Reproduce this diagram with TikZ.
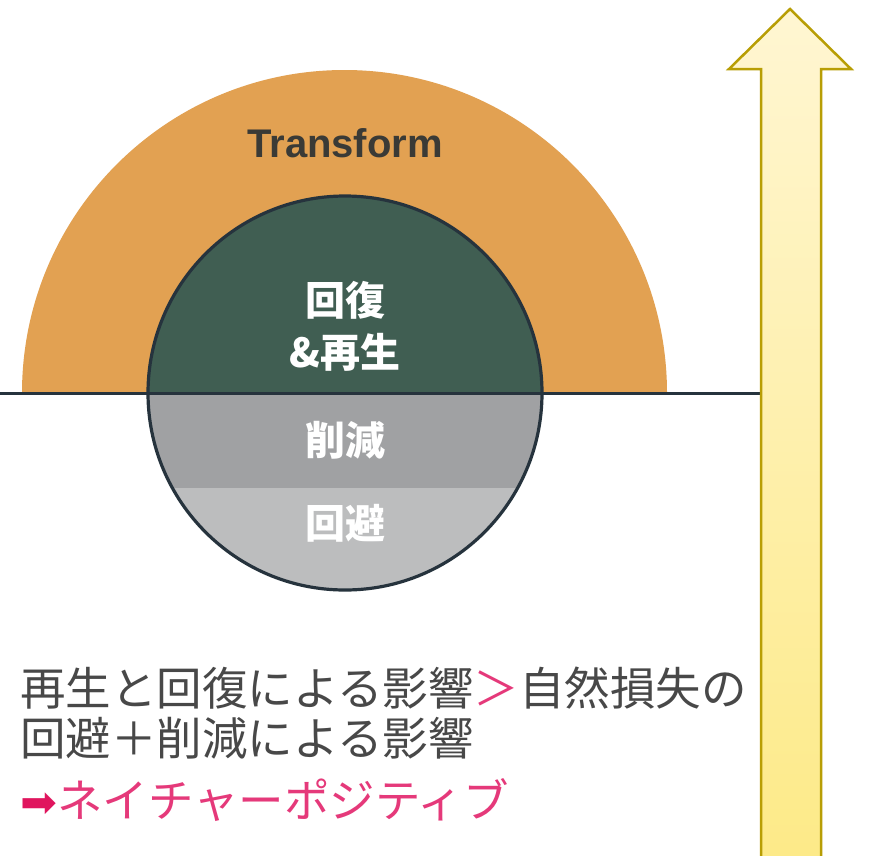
\documentclass[tikz,border=0pt]{standalone}
\usepackage{fontspec}
\newfontfamily\cjk{Noto Sans CJK JP}
\newfontfamily\lat{Liberation Sans}
\newfontfamily\sym{DejaVu Sans}
\definecolor{orng}{HTML}{E2A152}
\definecolor{dgreen}{HTML}{405E52}
\definecolor{gray1}{HTML}{A0A1A3}
\definecolor{gray2}{HTML}{BCBDBE}
\definecolor{outl}{HTML}{26333D}
\definecolor{tcol}{HTML}{3A3A36}
\definecolor{bodytxt}{HTML}{484848}
\definecolor{pink}{HTML}{E5397A}
\definecolor{arrpink}{HTML}{E0155E}
\definecolor{arrtop}{HTML}{FFF6D2}
\definecolor{arrbot}{HTML}{FDEA88}
\definecolor{arrline}{HTML}{B89E05}
\tikzset{
  inlabel/.style={text=white, inner sep=0pt, font=\cjk\bfseries\fontsize{40}{44}\selectfont},
  bodyline/.style={anchor=west, inner sep=0pt, text=bodytxt, font=\cjk\fontsize{45.5}{50}\selectfont},
}
\begin{document}
\begin{tikzpicture}[x=1pt,y=-1pt]
\useasboundingbox (0,0) rectangle (869,855);
\fill[white] (0,0) rectangle (869,855);
% orange half ellipse
\fill[orng] (22,393) arc[start angle=180,end angle=360,x radius=322.5,y radius=323] -- cycle;
% circle
\coordinate (c) at (345,393);
\fill[dgreen] (148,393) arc[start angle=180,end angle=360,radius=197] -- cycle;
\begin{scope}
  \clip (c) circle[radius=197];
  \fill[gray1] (100,393) rectangle (600,488);
  \fill[gray2] (100,488) rectangle (600,600);
\end{scope}
\draw[outl, line width=3.2pt] (c) circle[radius=197];
% horizon line
\coordinate (hl) at (0,393);
\coordinate (hr) at (761,393);
\draw[outl, line width=3pt] (hl) -- (hr);
% big arrow
\shade[top color=arrtop, bottom color=arrbot, draw=arrline, line width=2.5pt, line join=miter]
  (790,9) -- (851,69) -- (821,69) -- (821,860) -- (761,860) -- (761,69) -- (729,69) -- cycle;
% labels
\node[inner sep=0pt, text=tcol, font=\lat\bfseries\fontsize{40}{40}\selectfont] (tf) at (345,143) {Transform};
\node[inlabel] (kf) at (345,300) {回復};
\node[inlabel] (sg) at (345,352) {\&再生};
\node[inlabel] (sk) at (345,440) {削減};
\node[inlabel] (kh) at (345,523) {回避};
% bottom text
\node[bodyline] (l1) at (20,688) {再生と回復による影響\textcolor{pink}{＞}自然損失の};
\node[bodyline] (l2) at (20,738) {回避＋削減による影響};
\node[bodyline, text=pink] (l3) at (20,800) {\textcolor{arrpink}{\sym\fontsize{44}{44}\selectfont ➡}ネイチャーポジティブ};
\end{tikzpicture}
\end{document}
